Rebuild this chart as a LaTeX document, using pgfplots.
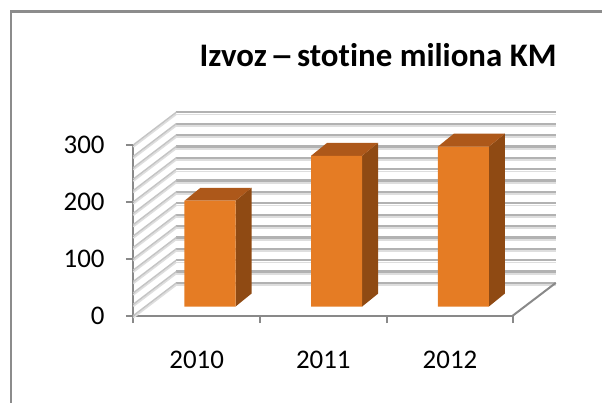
\documentclass[border=0pt]{standalone}
\usepackage{pgfplots}
\pgfplotsset{compat=1.18}
\usepackage{graphicx}
\usepackage{fontspec}
\setmainfont{Carlito}[Ligatures=NoCommon]
\definecolor{axisgray}{RGB}{137,137,137}
\definecolor{griddark}{RGB}{178,178,178}
\definecolor{gridlight}{RGB}{222,222,222}
\definecolor{sidegrid}{RGB}{196,196,196}
\definecolor{framegray}{RGB}{140,140,140}
\definecolor{barfront}{RGB}{229,124,36}
\definecolor{bartop}{RGB}{173,88,26}
\definecolor{barside}{RGB}{143,74,19}
\begin{document}
\begin{tikzpicture}
\begin{axis}[
  x=1bp, y=0.569bp,
  xmin=133.3, xmax=512.7, ymin=0, ymax=300,
  axis x line*=bottom, axis y line*=left,
  axis line style={draw=axisgray, line width=2.2bp},
  xtick={133.3,260,386.7,512.7}, xticklabels={},
  extra x ticks={196.7,323.3,450},
  extra x tick labels={2010,2011,2012},
  extra x tick style={major tick length=0pt,
    tick label style={anchor=center, inner sep=0pt, yshift=-44bp}},
  ytick={0,100,200,300}, yticklabels={0,100,200,300},
  yticklabel style={anchor=east, inner sep=0pt, xshift=-21bp},
  tick align=outside, major tick length=7.5bp,
  tick style={draw=axisgray, line width=2bp},
  ticklabel style={font=\fontsize{27}{32}\selectfont},
  clip=false,
]
% back wall and side wall gridlines
\pgfplotsinvokeforeach{0,20,...,300}{
  \draw[gridlight, line width=1.8bp] (axis cs:176.3,#1+53.5) -- (axis cs:555.7,#1+53.5);
  \draw[griddark, line width=2.2bp] (axis cs:176.3,#1+57.5) -- (axis cs:555.7,#1+57.5);
  \draw[gridlight, line width=1.6bp] (axis cs:133.3,#1-3.5) -- (axis cs:176.3,#1+54);
  \draw[sidegrid, line width=1.5bp] (axis cs:133.3,#1) -- (axis cs:176.3,#1+57.5);
}
% floor right edge
\draw[axisgray, line width=2bp] (axis cs:512.7,0) -- (axis cs:555.7,57.5);
% bar side faces
\addplot[fill=barside, draw=none] coordinates {(235.5,16) (235.5,202) (251.5,224.8) (251.5,38.8)} -- cycle;
\addplot[fill=barside, draw=none] coordinates {(362.1,16) (362.1,281) (378.1,303.8) (378.1,38.8)} -- cycle;
\addplot[fill=barside, draw=none] coordinates {(488.8,16) (488.8,297) (504.8,319.8) (504.8,38.8)} -- cycle;
% bar top faces
\addplot[fill=bartop, draw=none] coordinates {(184.5,202) (235.5,202) (251.5,224.8) (200.5,224.8)} -- cycle;
\addplot[fill=bartop, draw=none] coordinates {(311.1,281) (362.1,281) (378.1,303.8) (327.1,303.8)} -- cycle;
\addplot[fill=bartop, draw=none] coordinates {(437.8,297) (488.8,297) (504.8,319.8) (453.8,319.8)} -- cycle;
% bar front faces (values)
\addplot[ybar, bar width=51bp, bar shift=13.3bp, fill=barfront, draw=none, yshift=9.104bp]
  coordinates {(196.7,186) (323.3,265) (450,281)};
% title
\node[anchor=base, font=\bfseries\fontsize{33}{39}\selectfont, inner sep=0pt]
  at (axis cs:378,437.6) {Izvoz\hspace{0.1em}\scalebox{1.45}[1]{–}\hspace{0.1em}stotine miliona KM};
% frame
\draw[framegray, line width=2.6bp] (axis cs:11,-153.4) -- (axis cs:11,535) -- (axis cs:602,535);
\coordinate (bbA) at (axis cs:0,-153.4);
\coordinate (bbB) at (axis cs:602,554.8);
\end{axis}
\pgfresetboundingbox
\useasboundingbox (bbA) rectangle (bbB);
\end{tikzpicture}
\end{document}
